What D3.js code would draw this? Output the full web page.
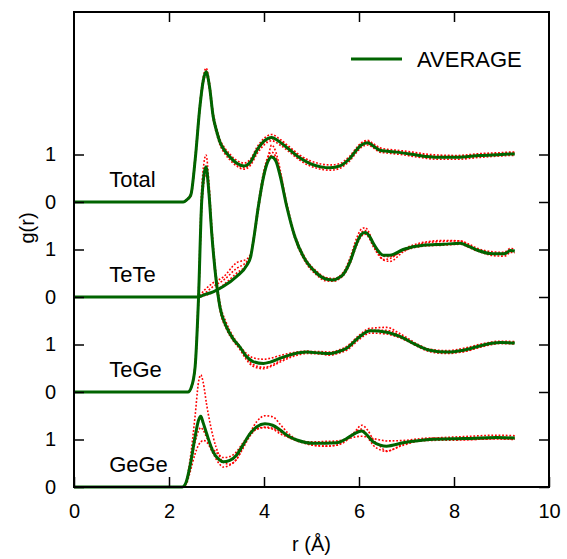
<!DOCTYPE html>
<html>
<head>
<meta charset="utf-8">
<script src="https://cdn.jsdelivr.net/npm/d3@7"></script>
<style>
  html, body { margin: 0; padding: 0; background: #fff; }
  svg { display: block; font-family: "Liberation Sans", Arial, Helvetica, sans-serif; }
</style>
</head>
<body>
<svg id="chart" width="567" height="559"></svg>
<script>
// Partial pair distribution functions g(r), stacked with a vertical offset of 2.
// Each panel: r knots, the averaged curve and three individual runs.

const panelNames = ["Total", "TeTe", "TeGe", "GeGe"];
const panelOffsets = [6, 4, 2, 0];

const rTotal = [0, 2.3, 2.38, 2.46, 2.55, 2.65, 2.72, 2.78, 2.85, 2.93, 3.0, 3.07, 3.18, 3.28, 3.42, 3.58, 3.72, 3.85, 4.0, 4.16, 4.35, 4.55, 4.75, 4.97, 5.2, 5.39, 5.6, 5.71, 5.81, 5.92, 6.05, 6.18, 6.3, 6.44, 6.6, 6.79, 7.14, 7.4, 7.64, 8.06, 8.55, 9.0, 9.18, 9.28];
const avgTotal = [0, 0, 0.05, 0.15, 0.88, 2.0, 2.55, 2.74, 2.45, 1.8, 1.5, 1.27, 1.07, 0.95, 0.82, 0.76, 0.85, 1.09, 1.28, 1.36, 1.25, 1.09, 0.93, 0.81, 0.74, 0.72, 0.76, 0.83, 0.92, 1.06, 1.2, 1.25, 1.18, 1.09, 1.07, 1.05, 1.0, 0.96, 0.94, 0.94, 0.98, 1.0, 1.01, 1.01];
const runsTotal = [
  [0, 0, 0.06, 0.18, 0.95, 2.08, 2.62, 2.82, 2.53, 1.88, 1.57, 1.33, 1.13, 1.01, 0.88, 0.82, 0.91, 1.15, 1.34, 1.42, 1.31, 1.15, 0.99, 0.87, 0.8, 0.78, 0.81, 0.88, 0.97, 1.11, 1.25, 1.3, 1.23, 1.14, 1.11, 1.09, 1.05, 1.01, 0.99, 0.98, 1.02, 1.04, 1.05, 1.05],
  [0, 0, 0.04, 0.12, 0.82, 1.93, 2.49, 2.69, 2.38, 1.74, 1.44, 1.21, 1.01, 0.89, 0.76, 0.69, 0.78, 1.01, 1.2, 1.29, 1.19, 1.04, 0.88, 0.76, 0.69, 0.67, 0.71, 0.78, 0.87, 1.01, 1.15, 1.2, 1.14, 1.05, 1.03, 1.01, 0.96, 0.92, 0.9, 0.9, 0.94, 0.97, 0.98, 0.98],
  [0, 0, 0.05, 0.16, 0.9, 2.02, 2.58, 2.76, 2.47, 1.82, 1.52, 1.29, 1.09, 0.96, 0.8, 0.72, 0.82, 1.06, 1.25, 1.33, 1.28, 1.12, 0.96, 0.83, 0.73, 0.71, 0.75, 0.82, 0.94, 1.08, 1.22, 1.28, 1.2, 1.11, 1.07, 1.06, 1.02, 0.98, 0.96, 0.96, 1.0, 1.02, 1.03, 1.04]
];

const rTeTe = [0, 2.6, 2.75, 2.93, 3.14, 3.42, 3.64, 3.72, 3.78, 3.88, 3.99, 4.08, 4.16, 4.25, 4.34, 4.48, 4.65, 4.83, 5.11, 5.3, 5.46, 5.6, 5.67, 5.81, 5.95, 6.05, 6.13, 6.22, 6.3, 6.42, 6.51, 6.65, 6.93, 7.35, 7.77, 8.13, 8.3, 8.48, 8.83, 9.05, 9.11, 9.18, 9.28];
const avgTeTe = [0, 0, 0.05, 0.11, 0.22, 0.43, 0.67, 0.85, 1.2, 1.9, 2.53, 2.85, 2.95, 2.86, 2.55, 1.9, 1.27, 0.85, 0.5, 0.38, 0.36, 0.42, 0.48, 0.74, 1.13, 1.32, 1.36, 1.28, 1.13, 0.95, 0.88, 0.88, 1.0, 1.09, 1.11, 1.13, 1.07, 0.99, 0.91, 0.91, 0.93, 0.98, 0.97];
const runsTeTe = [
  [0, 0, 0.15, 0.3, 0.42, 0.72, 0.8, 0.92, 1.25, 1.97, 2.62, 2.95, 3.05, 2.95, 2.62, 1.97, 1.32, 0.89, 0.54, 0.41, 0.39, 0.45, 0.52, 0.82, 1.24, 1.43, 1.46, 1.34, 1.1, 0.87, 0.79, 0.81, 1.0, 1.15, 1.19, 1.18, 1.1, 0.99, 0.87, 0.86, 0.88, 0.94, 0.93],
  [0, 0, 0.08, 0.22, 0.35, 0.6, 0.75, 0.88, 1.16, 1.82, 2.48, 2.9, 3.2, 3.05, 2.68, 1.93, 1.23, 0.81, 0.46, 0.34, 0.33, 0.39, 0.45, 0.7, 1.08, 1.28, 1.32, 1.23, 1.06, 0.9, 0.78, 0.75, 0.95, 1.13, 1.17, 1.18, 1.12, 1.03, 0.95, 0.94, 0.97, 1.02, 1.01],
  [0, 0, 0.03, 0.1, 0.25, 0.5, 0.7, 0.87, 1.22, 1.9, 2.55, 2.88, 2.98, 2.9, 2.55, 1.88, 1.26, 0.86, 0.52, 0.4, 0.37, 0.43, 0.49, 0.76, 1.16, 1.36, 1.4, 1.31, 1.14, 0.96, 0.86, 0.85, 0.97, 1.07, 1.09, 1.11, 1.05, 0.97, 0.9, 0.9, 0.92, 0.97, 0.96]
];

const rTeGe = [0, 2.4, 2.47, 2.55, 2.62, 2.69, 2.78, 2.84, 2.9, 3.0, 3.07, 3.21, 3.35, 3.49, 3.63, 3.77, 3.99, 4.13, 4.34, 4.62, 4.9, 5.18, 5.39, 5.53, 5.74, 6.02, 6.23, 6.58, 6.86, 7.21, 7.49, 7.85, 8.2, 8.62, 8.97, 9.28];
const avgTeGe = [0, 0, 0.1, 0.53, 1.94, 4.04, 4.74, 4.2, 3.34, 2.29, 1.8, 1.37, 1.12, 0.95, 0.75, 0.64, 0.6, 0.63, 0.71, 0.8, 0.84, 0.82, 0.81, 0.84, 0.92, 1.17, 1.29, 1.26, 1.17, 0.99, 0.88, 0.84, 0.88, 0.99, 1.04, 1.03];
const runsTeGe = [
  [0, 0, 0.12, 0.6, 2.1, 4.3, 4.99, 4.42, 3.5, 2.4, 1.9, 1.45, 1.17, 0.96, 0.72, 0.58, 0.52, 0.55, 0.66, 0.78, 0.85, 0.85, 0.84, 0.87, 0.96, 1.21, 1.34, 1.36, 1.23, 1.02, 0.89, 0.83, 0.85, 0.96, 1.02, 1.01],
  [0, 0, 0.09, 0.5, 1.85, 3.9, 4.6, 4.12, 3.28, 2.25, 1.78, 1.36, 1.12, 0.97, 0.81, 0.72, 0.69, 0.71, 0.77, 0.83, 0.86, 0.81, 0.78, 0.81, 0.88, 1.12, 1.24, 1.22, 1.14, 0.98, 0.9, 0.87, 0.92, 1.02, 1.07, 1.06],
  [0, 0, 0.1, 0.52, 1.9, 4.0, 4.7, 4.18, 3.3, 2.22, 1.74, 1.32, 1.08, 0.9, 0.68, 0.54, 0.49, 0.53, 0.63, 0.75, 0.81, 0.8, 0.78, 0.81, 0.9, 1.16, 1.3, 1.3, 1.19, 0.97, 0.85, 0.81, 0.85, 0.97, 1.03, 1.03]
];

const rGeGe = [0, 2.28, 2.36, 2.44, 2.55, 2.62, 2.67, 2.72, 2.79, 2.93, 3.05, 3.14, 3.28, 3.42, 3.55, 3.71, 3.85, 4.02, 4.18, 4.34, 4.5, 4.69, 5.04, 5.3, 5.53, 5.74, 5.9, 6.06, 6.18, 6.3, 6.45, 6.58, 6.93, 7.49, 8.2, 8.9, 9.28];
const avgGeGe = [0, 0, 0.1, 0.43, 1.06, 1.4, 1.49, 1.35, 1.13, 0.74, 0.58, 0.53, 0.56, 0.67, 0.87, 1.13, 1.27, 1.33, 1.3, 1.2, 1.08, 0.99, 0.92, 0.92, 0.93, 1.02, 1.12, 1.18, 1.08, 0.95, 0.88, 0.86, 0.93, 1.0, 1.02, 1.04, 1.03];
const runsGeGe = [
  [0, 0, 0.12, 0.55, 1.5, 2.2, 2.36, 2.2, 1.75, 1.05, 0.68, 0.52, 0.48, 0.58, 0.82, 1.15, 1.38, 1.5, 1.48, 1.32, 1.14, 1.0, 0.88, 0.86, 0.88, 0.98, 1.15, 1.3, 1.2, 1.0, 0.85, 0.76, 0.88, 1.02, 1.06, 1.09, 1.08],
  [0, 0, 0.08, 0.38, 0.95, 1.18, 1.25, 1.2, 1.05, 0.8, 0.68, 0.62, 0.64, 0.74, 0.92, 1.12, 1.22, 1.26, 1.24, 1.16, 1.06, 0.98, 0.95, 0.96, 0.97, 1.01, 1.05, 1.07, 1.05, 1.02, 0.99, 0.97, 0.98, 1.03, 1.0, 1.01, 1.0],
  [0, 0, 0.05, 0.3, 0.7, 0.88, 0.95, 0.98, 0.95, 0.7, 0.5, 0.42, 0.46, 0.58, 0.8, 1.08, 1.22, 1.25, 1.22, 1.12, 1.05, 0.97, 0.88, 0.86, 0.88, 1.02, 1.14, 1.22, 1.05, 0.88, 0.78, 0.75, 0.9, 0.98, 0.99, 1.02, 1.01]
];

const xTickValues = [0, 2, 4, 6, 8, 10];
const yTickValues = [0, 1, 2, 3, 4, 5, 6, 7];
const yTickLabels = ["0", "1", "0", "1", "0", "1", "0", "1"];
const legendLabel = "AVERAGE";

const panels = [
  { r: rTotal, avg: avgTotal, runs: runsTotal },
  { r: rTeTe, avg: avgTeTe, runs: runsTeTe },
  { r: rTeGe, avg: avgTeGe, runs: runsTeGe },
  { r: rGeGe, avg: avgGeGe, runs: runsGeGe }
];

// ---- layout ----
const svg = d3.select("#chart");
const plotLeft = 74, plotRight = 549, plotTop = 12, plotBottom = 487;
const x = d3.scaleLinear().domain([0, 10]).range([plotLeft, plotRight]);
const y = d3.scaleLinear().domain([0, 10]).range([plotBottom, plotTop]);

const green = "#006400";
const red = "#ff0000";
const fontSize = 20;

// ---- curves ----
const gCurves = svg.append("g");
panels.forEach((p, i) => {
  const off = panelOffsets[i];
  const line = d3.line()
    .x(d => x(d[0]))
    .y(d => y(d[1] + off))
    .curve(d3.curveMonotoneX);
  const g = gCurves.append("g");
  p.runs.forEach(run => {
    g.append("path")
      .datum(p.r.map((r, k) => [r, run[k]]))
      .attr("d", line)
      .attr("fill", "none")
      .attr("stroke", red)
      .attr("stroke-width", 1.6)
      .attr("stroke-dasharray", "1.8,1.8");
  });
  g.append("path")
    .datum(p.r.map((r, k) => [r, p.avg[k]]))
    .attr("d", line)
    .attr("fill", "none")
    .attr("stroke", green)
    .attr("stroke-width", 3)
    .attr("stroke-linejoin", "round");
});

// ---- panel labels ----
panels.forEach((p, i) => {
  svg.append("text")
    .attr("x", x(0.74))
    .attr("y", y(panelOffsets[i] + 0.32))
    .attr("font-size", 22)
    .attr("fill", "#000")
    .text(panelNames[i]);
});

// ---- frame and ticks (mirrored, pointing inwards) ----
const tickLen = 10;

const bottomAxis = d3.axisBottom(x).tickValues(xTickValues).tickSize(-tickLen).tickFormat(d3.format("d")).tickPadding(17);
const topAxis = d3.axisTop(x).tickValues(xTickValues.filter(v => v > 0 && v < 10)).tickSize(-tickLen).tickFormat("");
const leftAxis = d3.axisLeft(y).tickValues(yTickValues).tickSize(-tickLen).tickFormat((d, k) => yTickLabels[k]).tickPadding(18);
const rightAxis = d3.axisRight(y).tickValues(yTickValues).tickSize(-tickLen).tickFormat("");

function style(sel) {
  sel.select(".domain").remove();
  sel.selectAll(".tick line").attr("stroke", "#000").attr("stroke-width", 1.5);
  sel.selectAll(".tick text").attr("font-size", fontSize).attr("fill", "#000")
    .attr("font-family", "'Liberation Sans', Arial, Helvetica, sans-serif");
}
svg.append("g").attr("transform", `translate(0,${plotBottom})`).call(bottomAxis).call(style);
svg.append("g").attr("transform", `translate(0,${plotTop})`).call(topAxis).call(style);
svg.append("g").attr("transform", `translate(${plotLeft},0)`).call(leftAxis).call(style);
svg.append("g").attr("transform", `translate(${plotRight},0)`).call(rightAxis).call(style);

svg.append("rect")
  .attr("x", plotLeft).attr("y", plotTop)
  .attr("width", plotRight - plotLeft).attr("height", plotBottom - plotTop)
  .attr("fill", "none").attr("stroke", "#000")
  .attr("stroke-width", 2);

// ---- axis titles ----
svg.append("text")
  .attr("x", (plotLeft + plotRight) / 2)
  .attr("y", 551)
  .attr("text-anchor", "middle")
  .attr("font-size", fontSize)
  .text("r (Å)");

svg.append("text")
  .attr("transform", `translate(34,228) rotate(-90)`)
  .attr("text-anchor", "middle")
  .attr("font-size", fontSize)
  .text("g(r)");

// ---- legend ----
const legend = svg.append("g");
legend.append("line")
  .attr("x1", 351).attr("x2", 402)
  .attr("y1", 59).attr("y2", 59)
  .attr("stroke", green).attr("stroke-width", 3);
legend.append("text")
  .attr("x", 417).attr("y", 67)
  .attr("font-size", 22)
  .text(legendLabel);
</script>
</body>
</html>
